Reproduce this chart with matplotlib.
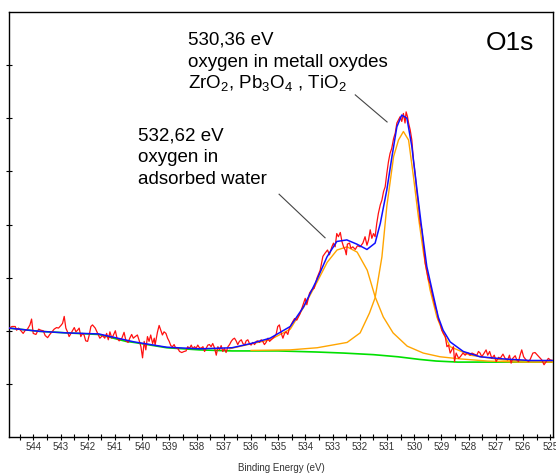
import numpy as np
import matplotlib
matplotlib.use("Agg")
import matplotlib.pyplot as plt

plt.rcParams["font.family"] = ["Liberation Sans", "DejaVu Sans"]
plt.rcParams["mathtext.fontset"] = "custom"
plt.rcParams["mathtext.rm"] = "Liberation Sans"
plt.rcParams["mathtext.it"] = "Liberation Sans:italic"

# Measured O1s spectrum (binding energy in eV, intensity in arbitrary units)
raw_be = [
    544.89, 544.79, 544.67, 544.62, 544.55, 544.46, 544.38, 544.30, 544.22, 544.13,
    544.07, 544.01, 543.91, 543.81, 543.73, 543.64, 543.57, 543.48, 543.40, 543.32,
    543.24, 543.15, 543.08, 542.99, 542.93, 542.87, 542.81, 542.75, 542.69, 542.59,
    542.50, 542.44, 542.38, 542.32, 542.26, 542.20, 542.14, 542.08, 542.01, 541.95,
    541.89, 541.83, 541.73, 541.64, 541.56, 541.46, 541.38, 541.31, 541.25, 541.19,
    541.12, 541.06, 540.99, 540.93, 540.85, 540.75, 540.67, 540.60, 540.52, 540.46,
    540.39, 540.33, 540.26, 540.18, 540.11, 540.05, 539.99, 539.93, 539.87, 539.81,
    539.75, 539.69, 539.62, 539.56,
    539.53, 539.44, 539.38, 539.32, 539.26, 539.20, 539.13, 539.07, 539.01, 538.95,
    538.89, 538.83, 538.77, 538.71, 538.63, 538.55, 538.46, 538.39, 538.33, 538.26,
    538.20, 538.14, 538.08, 538.02, 537.96, 537.90, 537.84, 537.77, 537.71, 537.65,
    537.59, 537.53, 537.47, 537.41, 537.34, 537.28, 537.22, 537.16, 537.10, 537.04,
    536.98, 536.92, 536.85, 536.79, 536.73, 536.67, 536.61, 536.55, 536.49, 536.43,
    536.36, 536.30, 536.24, 536.18, 536.12, 536.06, 536.00, 535.94, 535.87, 535.81,
    535.75, 535.69, 535.63, 535.57, 535.51, 535.45, 535.38, 535.32, 535.26, 535.20,
    535.14, 535.08, 535.02, 534.96, 534.89, 534.83, 534.77, 534.71, 534.65, 534.59,
    534.53, 534.47, 534.40,
    534.32, 534.20, 534.07, 534.01, 533.95, 533.85, 533.77, 533.68, 533.58, 533.46,
    533.36, 533.28, 533.19, 533.12, 533.03, 532.97, 532.91, 532.85, 532.79, 532.72,
    532.66, 532.60, 532.54, 532.50, 532.46, 532.38, 532.33, 532.26, 532.17, 532.09,
    531.99, 531.89, 531.81, 531.74, 531.68, 531.62, 531.56, 531.50, 531.44, 531.38,
    531.32, 531.25, 531.19, 531.13, 531.07, 531.01, 530.95, 530.89, 530.83, 530.76,
    530.70, 530.64, 530.58, 530.52, 530.46, 530.40, 530.34, 530.30, 530.25, 530.21,
    530.15, 530.09, 530.03, 529.97, 529.91, 529.84, 529.78, 529.72, 529.66, 529.60,
    529.54, 529.48, 529.42, 529.35, 529.29, 529.23, 529.17, 529.11, 529.05, 528.99,
    528.93, 528.86, 528.80, 528.74, 528.68,
    528.56, 528.52, 528.46, 528.37, 528.31, 528.21, 528.13, 528.04, 527.95, 527.88,
    527.80, 527.70, 527.64, 527.58, 527.52, 527.43, 527.36, 527.30, 527.23, 527.15,
    527.06, 526.99, 526.90, 526.84, 526.74, 526.66, 526.57, 526.50, 526.44, 526.38,
    526.29, 526.23, 526.17, 526.11, 526.05, 525.98, 525.89, 525.80, 525.74, 525.64,
    525.56, 525.47, 525.40, 525.31, 525.23, 525.15, 525.07, 525.00, 524.91,
]
raw_int = [
    2.05, 2.08, 2.08, 2.01, 2.05, 2.00, 1.95, 2.01, 2.03, 2.11,
    2.22, 1.95, 1.93, 2.03, 2.01, 2.00, 1.91, 1.87, 1.93, 1.98,
    2.03, 2.06, 2.05, 2.10, 2.14, 2.27, 2.05, 1.98, 1.89, 1.98,
    2.06, 1.98, 2.01, 2.05, 1.89, 1.95, 1.92, 1.81, 1.80, 1.92,
    2.08, 2.11, 2.05, 1.95, 1.86, 1.91, 1.86, 1.95, 1.83, 1.98,
    1.86, 1.92, 2.00, 1.86, 1.81, 1.86, 1.97, 1.81, 1.78, 1.86,
    1.93, 1.86, 1.89, 1.92, 1.81, 1.70, 1.49, 1.80, 1.64, 1.89,
    1.80, 1.92, 1.76, 1.86,
    1.73, 1.98, 2.10, 2.01, 1.92, 1.98, 1.95, 1.86, 1.80, 1.72,
    1.70, 1.74, 1.67, 1.68, 1.61, 1.59, 1.61, 1.62, 1.70, 1.67,
    1.73, 1.66, 1.70, 1.67, 1.73, 1.68, 1.67, 1.70, 1.61, 1.67,
    1.73, 1.74, 1.70, 1.76, 1.67, 1.54, 1.70, 1.64, 1.72, 1.61,
    1.67, 1.59, 1.70, 1.74, 1.80, 1.84, 1.86, 1.81, 1.74, 1.80,
    1.83, 1.76, 1.73, 1.81, 1.83, 1.76, 1.73, 1.78, 1.74, 1.80,
    1.81, 1.78, 1.83, 1.80, 1.74, 1.78, 1.86, 1.80, 1.83, 1.86,
    1.89, 1.93, 2.08, 2.11, 1.95, 1.86, 1.95, 1.98, 1.93, 2.05,
    2.11, 2.17, 2.23,
    2.20, 2.32, 2.52, 2.61, 2.49, 2.71, 2.77, 2.80, 2.99, 3.14,
    3.40, 3.46, 3.52, 3.43, 3.58, 3.65, 3.58, 3.83, 3.77, 3.85,
    3.68, 3.58, 3.52, 3.43, 3.63, 3.65, 3.55, 3.58, 3.53, 3.60,
    3.58, 3.65, 3.77, 3.61, 3.71, 3.90, 3.74, 3.83, 3.77, 4.02,
    4.21, 4.37, 4.46, 4.62, 4.71, 4.96, 5.18, 5.34, 5.43, 5.62,
    5.72, 5.91, 5.97, 6.03, 5.94, 6.09, 5.91, 6.12, 6.03, 5.91,
    5.78, 5.59, 5.21, 4.96, 4.65, 4.34, 4.02, 3.90, 3.58, 3.27,
    3.11, 2.96, 2.89, 2.71, 2.58, 2.45, 2.36, 2.20, 2.14, 2.01,
    1.95, 1.89, 1.70, 1.73, 1.58,
    1.70, 1.42, 1.58, 1.48, 1.51, 1.58, 1.54, 1.59, 1.54, 1.58,
    1.56, 1.54, 1.61, 1.58, 1.51, 1.58, 1.64, 1.54, 1.61, 1.48,
    1.54, 1.42, 1.50, 1.48, 1.56, 1.48, 1.45, 1.54, 1.39, 1.48,
    1.53, 1.45, 1.42, 1.54, 1.64, 1.51, 1.45, 1.42, 1.46, 1.58,
    1.59, 1.54, 1.50, 1.45, 1.36, 1.42, 1.48, 1.45, 1.44,
]

# Fitted envelope (sum of components + background)
env_be = [544.9, 543.8, 542.8, 541.6, 540.3, 539.1, 537.9, 536.7, 536.0, 535.3,
          534.56, 534.07, 533.58, 533.21, 532.85, 532.48, 532.11, 531.74, 531.44, 531.25,
          531.01, 530.82, 530.64, 530.46, 530.27, 530.09, 529.90, 529.72, 529.54, 529.29,
          529.12, 528.94, 528.68, 528.20, 527.58, 526.73, 525.74, 524.9]
env_int = [2.05, 1.99, 1.96, 1.94, 1.79, 1.69, 1.66, 1.68, 1.76, 1.86,
           2.08, 2.45, 2.96, 3.39, 3.68, 3.71, 3.63, 3.53, 3.65, 4.02,
           4.65, 5.28, 5.84, 6.06, 6.00, 5.47, 4.65, 3.90, 3.21, 2.64,
           2.26, 2.01, 1.79, 1.61, 1.51, 1.47, 1.44, 1.44]

# Shirley background
bg_be = [544.9, 543.8, 542.8, 541.6, 540.6, 540.3, 539.1, 537.9, 536.7, 535.0,
         533.6, 532.6, 531.5, 530.6, 529.8, 529.2, 528.4, 524.9]
bg_int = [2.05, 1.99, 1.96, 1.93, 1.80, 1.78, 1.68, 1.64, 1.62, 1.62,
          1.60, 1.58, 1.55, 1.51, 1.46, 1.43, 1.41, 1.41]

# Component 532.62 eV (adsorbed water)
water_be = [536.8, 536.03, 535.30, 534.56, 534.08, 533.57, 533.20, 532.84, 532.47, 532.10,
            531.73, 531.44, 531.14, 530.78, 530.26, 529.67, 529.05, 528.31, 527.32, 526.11, 524.9]
water_int = [1.66, 1.75, 1.83, 2.03, 2.43, 2.92, 3.29, 3.52, 3.58, 3.48,
             3.14, 2.64, 2.26, 1.96, 1.71, 1.58, 1.51, 1.47, 1.43, 1.41, 1.41]

# Component 530.36 eV (metal oxides)
oxide_be = [536.0, 534.56, 533.57, 532.47, 531.99, 531.65, 531.44, 531.19, 531.01, 530.76,
            530.58, 530.40, 530.21, 530.03, 529.85, 529.66, 529.42, 529.17, 528.93, 528.68,
            527.95, 526.73, 524.9]
oxide_int = [1.63, 1.64, 1.68, 1.78, 1.96, 2.33, 2.62, 3.39, 4.34, 5.28,
             5.59, 5.75, 5.59, 4.90, 4.15, 3.46, 2.77, 2.26, 1.95, 1.70,
             1.54, 1.45, 1.42]

# Annotation texts: one entry per line, with its baseline height
oxide_lines = ["530,36 eV", "oxygen in metall oxydes", "ZrO$_2$, Pb$_3$O$_4$ , TiO$_2$"]
oxide_base = [7.38, 6.97, 6.57]
water_lines = ["532,62 eV", "oxygen in", "adsorbed water"]
water_base = [5.59, 5.18, 4.76]

fig = plt.figure(figsize=(5.56, 4.75), dpi=100)
ax = fig.add_axes([9 / 556, 38 / 475, 544 / 556, 425 / 475])

ax.plot(bg_be, bg_int, color="#00e000", lw=1.2, zorder=2)
ax.plot(water_be, water_int, color="#ffa500", lw=1.0, zorder=3)
ax.plot(oxide_be, oxide_int, color="#ffa500", lw=1.0, zorder=3)
ax.plot(raw_be, raw_int, color="#ff1010", lw=0.9, zorder=4)
ax.plot(env_be, env_int, color="#1010ff", lw=1.1, zorder=5)

ax.set_xlim(544.9, 524.9)
ax.set_ylim(0, 8)
ax.set_xticks(np.arange(544, 524, -1))
ax.set_xticks(np.arange(544.5, 524.5, -0.5), minor=True)
ax.set_yticks(np.arange(1, 8))
ax.set_yticklabels([])
ax.tick_params(axis="x", which="both", direction="inout", length=4, width=0.8,
               labelsize=7, labelcolor="#333333", pad=1.5)
ax.tick_params(axis="y", direction="inout", length=4, width=0.8)
for s in ax.spines.values():
    s.set_linewidth(1.0)

ax.set_xlabel("Binding Energy (eV)", fontsize=7, color="#333333", labelpad=8)

txt = 13.5
for line, yb in zip(oxide_lines, oxide_base):
    ax.text(538.31, yb, line, fontsize=txt, va="baseline", ha="left")
for line, yb in zip(water_lines, water_base):
    ax.text(540.15, yb, line, fontsize=txt, va="baseline", ha="left")
ax.text(0.965, 0.955, "O1s", transform=ax.transAxes, fontsize=19, va="top", ha="right")

ax.plot([532.17, 531.00], [6.44, 5.93], color="#444444", lw=0.8, zorder=6)
ax.plot([534.97, 533.28], [4.57, 3.75], color="#444444", lw=0.8, zorder=6)

fig.savefig("out.png", dpi=100)
